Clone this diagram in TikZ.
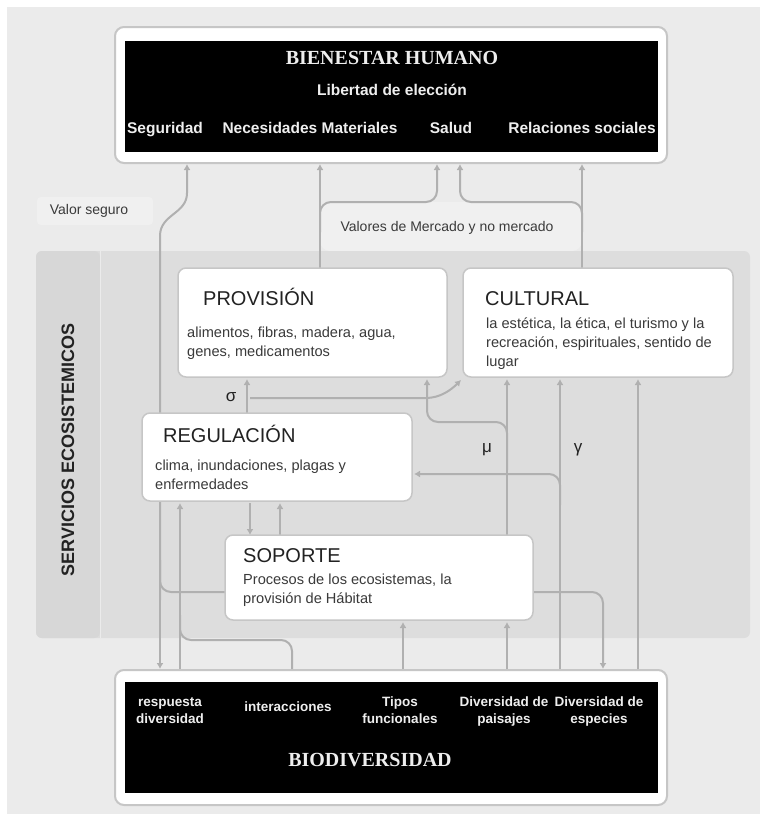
\documentclass[tikz,border=0pt]{standalone}
\usepackage{fontspec}
\setmainfont{Liberation Sans}
\newfontfamily\headserif{Liberation Serif}
\usetikzlibrary{arrows.meta}

\definecolor{pagebg}{HTML}{EBEBEB}
\definecolor{panelbg}{HTML}{DDDDDD}
\definecolor{bandbg}{HTML}{D7D7D7}
\definecolor{linkgray}{HTML}{B0B0B0}
\definecolor{boxedge}{HTML}{C6C6C6}
\definecolor{labelbg}{HTML}{F0F0F0}
\definecolor{bodytext}{HTML}{3A3A3A}
\definecolor{headtext}{HTML}{222222}
\definecolor{invtext}{HTML}{EEEEEE}

\newcommand{\fs}[2]{\fontsize{#1}{#2}\selectfont}

\begin{document}
\begin{tikzpicture}[x=1pt,y=-1pt,
  svcbox/.style={draw=boxedge, line width=1.5pt, fill=white, rounded corners=8pt, inner sep=0pt},
  framebox/.style={draw=boxedge, line width=2pt, fill=white, rounded corners=9pt, inner sep=0pt},
  darkbox/.style={fill=black, inner sep=0pt},
  link/.style={draw=linkgray, line width=2pt, rounded corners=11pt},
  tip/.style={-{Latex[length=6pt,width=7pt]}},
  svctitle/.style={anchor=base west, inner sep=0pt, text=headtext, font=\fs{20}{22}},
  svcbody/.style={anchor=base west, inner sep=0pt, text=bodytext, align=left, font=\fs{14.6}{19}},
  toplabel/.style={anchor=base, inner sep=0pt, text=invtext, align=center, font=\bfseries\fs{15.5}{17}},
  botlabel/.style={anchor=base, inner sep=0pt, text=invtext, align=center, font=\bfseries\fs{13.5}{17}},
  invhead/.style={anchor=base, inner sep=0pt, text=invtext, font=\headserif\bfseries\fs{20}{22}},
  greek/.style={inner sep=0pt, text=headtext, font=\fs{17}{20}},
  note/.style={inner sep=0pt, text=bodytext, font=\fs{14}{16}}
]
\useasboundingbox (0,0) rectangle (767,814);

% page and background bands
\fill[white] (0,0) rectangle (767,814);
\fill[pagebg] (7,7) rectangle (760,814);
\fill[labelbg, rounded corners=4pt] (37,197) rectangle (153,225);
\fill[labelbg, rounded corners=10pt] (320,202) rectangle (582,251);
\fill[panelbg, rounded corners=6pt] (36,251) rectangle (750,638);
\fill[bandbg, rounded corners=6pt] (36,251) rectangle (100,638);
\draw[white!40!panelbg, line width=1pt] (100,251) -- (100,638);

% frames
\node[framebox, minimum width=552pt, minimum height=136pt] (top) at (391,95) {};
\node[framebox, minimum width=552pt, minimum height=135pt] (bot) at (391,737.5) {};

% connectors (drawn before the service boxes so that boxes sit on top)
% valor seguro
\draw[link, tip] (160,600) -- (160,247) .. controls (160,214) and (187,214) .. (187,182) -- (187,0 |- top.south);
\draw[link, tip] (160,590) -- (160,0 |- bot.north);
\draw[link] (225,592) -- (160,592) -- (160,560);
% respuesta diversidad and interacciones
\draw[link, tip] (180,0 |- bot.north) -- (180,503);
\draw[link] (292,0 |- bot.north) -- (292,640) -- (180,640) -- (180,615);
% regulacion <-> soporte
\draw[link, tip] (250,503) -- (250,535);
\draw[link, tip] (280,535) -- (280,503);
% regulacion -> provision, sigma -> cultural
\draw[link, tip] (247,413) -- (247,379);
\draw[link, tip] (250,398) -- (415,398) .. controls (440,398) and (451,390) .. (461,380);
% soporte -> cultural, branch to provision
\draw[link, tip] (507,535) -- (507,379);
\draw[link, tip] (507,470) -- (507,422) -- (427,422) -- (427,379);
% biodiversidad -> soporte
\draw[link, tip] (403,0 |- bot.north) -- (403,622);
\draw[link, tip] (507,0 |- bot.north) -- (507,622);
% paisajes -> cultural, branch to regulacion
\draw[link, tip] (560,0 |- bot.north) -- (560,379);
\draw[link, tip] (560,505) -- (560,474) -- (414,474);
% soporte -> especies
\draw[link, tip] (533,592) -- (603,592) -- (603,0 |- bot.north);
% especies -> cultural
\draw[link, tip] (638,0 |- bot.north) -- (638,379);
% provision and cultural -> bienestar
\draw[link, tip] (320,268) -- (320,0 |- top.south);
\draw[link, tip] (320,232) -- (320,202) -- (437,202) -- (437,0 |- top.south);
\draw[link, tip] (582,268) -- (582,0 |- top.south);
\draw[link, tip] (582,232) -- (582,202) -- (460,202) -- (460,0 |- top.south);

% dark panels
\node[darkbox, minimum width=533pt, minimum height=111pt] (topdark) at (391.5,96.5) {};
\node[darkbox, minimum width=533pt, minimum height=111pt] (botdark) at (391.5,737.5) {};

% service boxes
\node[svcbox, minimum width=269pt, minimum height=109pt] (prov) at (312.5,322.5) {};
\node[svcbox, minimum width=270pt, minimum height=109pt] (cult) at (598,322.5) {};
\node[svcbox, minimum width=270pt, minimum height=88pt] (reg) at (277,457) {};
\node[svcbox, minimum width=308pt, minimum height=85pt] (sop) at (379,577.5) {};

% bienestar humano
\node[invhead] (bh) at (392,64) {BIENESTAR HUMANO};
\node[toplabel] (lib) at (392,95) {Libertad de elección};
\node[toplabel] (seg) at (165,133) {Seguridad};
\node[toplabel] (nec) at (310,133) {Necesidades Materiales};
\node[toplabel] (sal) at (451,133) {Salud};
\node[toplabel] (rel) at (582,133) {Relaciones sociales};

% biodiversidad (base = last line)
\node[botlabel] (resp) at (170,723) {respuesta\\diversidad};
\node[botlabel] (inter) at (288,711) {interacciones};
\node[botlabel] (tipos) at (400,723) {Tipos\\funcionales};
\node[botlabel] (pais) at (504,723) {Diversidad de\\paisajes};
\node[botlabel] (esp) at (599,723) {Diversidad de\\especies};
\node[invhead] (bio) at (370,766) {BIODIVERSIDAD};

% service box texts (body base = last line)
\node[svctitle] (provT) at (203,305) {PROVISIÓN};
\node[svcbody] (provB) at (187,356) {alimentos, fibras, madera, agua,\\genes, medicamentos};
\node[svctitle] (cultT) at (485,305) {CULTURAL};
\node[svcbody] (cultB) at (486,366) {la estética, la ética, el turismo y la\\recreación, espirituales, sentido de\\lugar};
\node[svctitle] (regT) at (163,442) {REGULACIÓN};
\node[svcbody] (regB) at (155,489) {clima, inundaciones, plagas y\\enfermedades};
\node[svctitle] (sopT) at (243,562) {SOPORTE};
\node[svcbody] (sopB) at (243,603) {Procesos de los ecosistemas, la\\provisión de Hábitat};

% side label and notes
\node[inner sep=0pt, rotate=90, text=headtext, font=\bfseries\fs{18}{20}] (svc) at (68,450) {SERVICIOS ECOSISTEMICOS};
\node[note] (vs) at (89,211) {Valor seguro};
\node[note] (vm) at (447,228) {Valores de Mercado y no mercado};
\node[greek] (sigma) at (231,397) {σ};
\node[greek] (mu) at (487,450) {μ};
\node[greek] (gamma) at (578,450) {γ};
\end{tikzpicture}
\end{document}
